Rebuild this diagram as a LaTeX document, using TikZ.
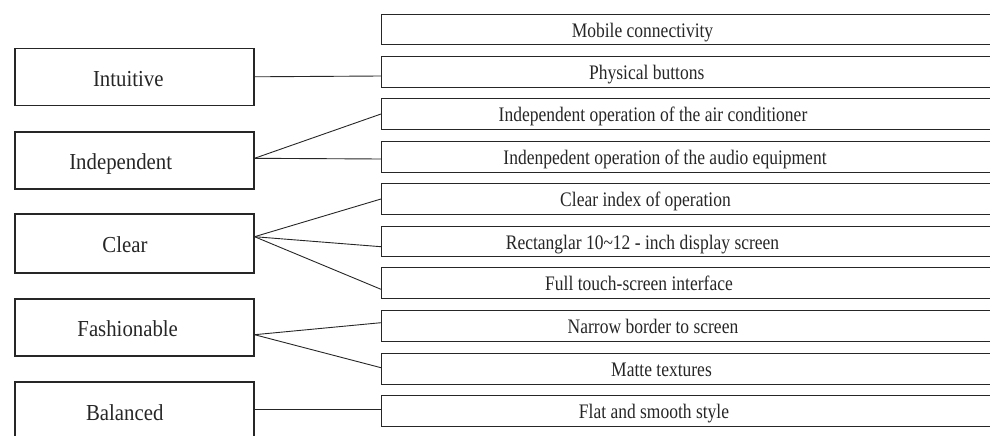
\documentclass[tikz,border=0pt]{standalone}
\usepackage{fontspec}
\setmainfont{Liberation Serif}
\usetikzlibrary{calc}
\newcommand\lstretch[1]{\scalebox{1}[1.1]{#1}}
\newcommand\rstretch[1]{\scalebox{1}[1.18]{#1}}
\begin{document}
\begin{tikzpicture}[x=1pt,y=-1pt,
  lbox/.style={draw=black!85,line width=1.1pt,minimum width=239pt,minimum height=57pt,inner sep=0pt},
  rbox/.style={draw=black!85,line width=1.1pt,minimum width=640pt,minimum height=30.7pt,inner sep=0pt,anchor=west},
  ltext/.style={font=\fontsize{20.8pt}{22pt}\selectfont,text=black!85,inner sep=0pt,anchor=base},
  rtext/.style={font=\fontsize{17.5pt}{19pt}\selectfont,text=black!85,inner sep=0pt,anchor=base},
  conn/.style={draw=black!85,line width=0.9pt}]
\useasboundingbox (0,0) rectangle (990,436);
\clip (0,0) rectangle (990,436);
% left boxes
\node[lbox] (l1) at (134.5,76.8) {};
\node[lbox] (l2) at (134.5,160.5) {};
\node[lbox,minimum height=59pt] (l3) at (134.5,243.5) {};
\node[lbox] (l4) at (134.5,327.5) {};
\node[lbox] (l5) at (134.5,410.5) {};
\node[ltext] (lt1) at (128.3,86) {\lstretch{Intuitive}};
\node[ltext] (lt2) at (120.7,169.7) {\lstretch{Independent}};
\node[ltext] (lt3) at (125,252.7) {\lstretch{Clear}};
\node[ltext] (lt4) at (127.7,336.7) {\lstretch{Fashionable}};
\node[ltext] (lt5) at (124.7,420) {\lstretch{Balanced}};
% right boxes
\node[rbox] (r1) at (381,29.5) {};
\node[rbox] (r2) at (381,71.7) {};
\node[rbox] (r3) at (381,114) {};
\node[rbox] (r4) at (381,157) {};
\node[rbox] (r5) at (381,199) {};
\node[rbox] (r6) at (381,241.5) {};
\node[rbox] (r7) at (381,283.2) {};
\node[rbox] (r8) at (381,326) {};
\node[rbox] (r9) at (381,368.7) {};
\node[rbox] (r10) at (381,410.7) {};
\node[rtext] (rt1) at (642.5,37.1) {\rstretch{Mobile connectivity}};
\node[rtext] (rt2) at (646.7,79.3) {\rstretch{Physical buttons}};
\node[rtext] (rt3) at (653,121.6) {\rstretch{Independent operation of the air conditioner}};
\node[rtext] (rt4) at (665,164.6) {\rstretch{Indenpedent operation of the audio equipment}};
\node[rtext] (rt5) at (645.5,206.6) {\rstretch{Clear index of operation}};
\node[rtext] (rt6) at (642.5,249.1) {\rstretch{Rectanglar 10\textasciitilde12 - inch display screen}};
\node[rtext] (rt7) at (639,290.8) {\rstretch{Full touch-screen interface}};
\node[rtext] (rt8) at (653,333.6) {\rstretch{Narrow border to screen}};
\node[rtext] (rt9) at (661.5,376.3) {\rstretch{Matte textures}};
\node[rtext] (rt10) at (654,418.3) {\rstretch{Flat and smooth style}};
% connectors
\draw[conn] (l1.east) -- ($(r2.west)+(0,4.3)$);
\draw[conn] ($(l2.east)+(0,-2.2)$) -- (r3.west);
\draw[conn] ($(l2.east)+(0,-2.2)$) -- ($(r4.west)+(0,2)$);
\draw[conn] ($(l3.east)+(0,-6.8)$) -- (r5.west);
\draw[conn] ($(l3.east)+(0,-6.8)$) -- ($(r6.west)+(0,5.2)$);
\draw[conn] ($(l3.east)+(0,-6.8)$) -- ($(r7.west)+(0,6.1)$);
\draw[conn] ($(l4.east)+(0,7.2)$) -- ($(r8.west)+(0,-3.3)$);
\draw[conn] ($(l4.east)+(0,7.2)$) -- ($(r9.west)+(0,-1)$);
\draw[conn] ($(l5.east)+(0,-1.2)$) -- ($(r10.west)+(0,-1.4)$);
\end{tikzpicture}
\end{document}
